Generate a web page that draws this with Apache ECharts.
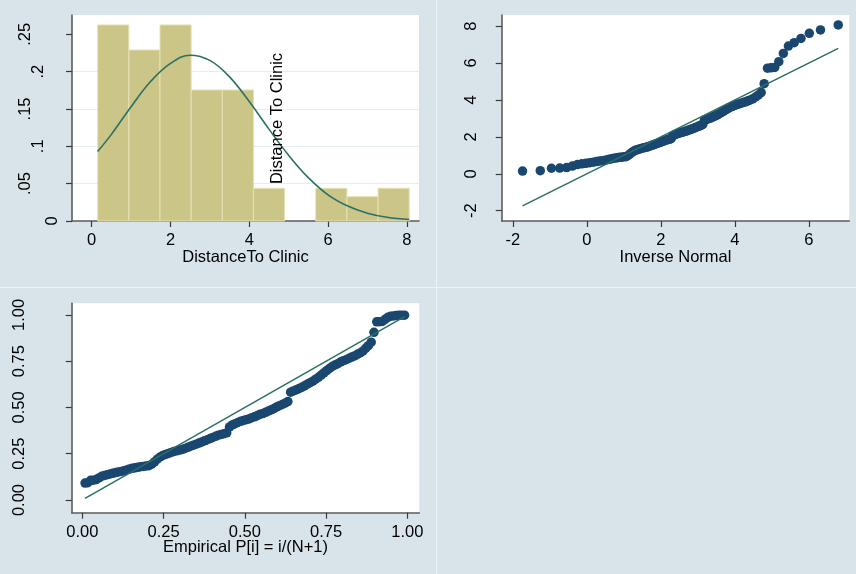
<!DOCTYPE html>
<html>
<head>
<meta charset="utf-8">
<script src="https://cdn.jsdelivr.net/npm/echarts@6.0.0/dist/echarts.min.js"></script>
<style>
html,body{margin:0;padding:0;background:#d9e4ea;}
#c{width:856px;height:574px;}
</style>
</head>
<body>
<div id="c"></div>
<script>
// ---------------- data ----------------
// Histogram of Distance To Clinic (density scale)
const histBinEdges = [0.152, 0.943, 1.734, 2.525, 3.316, 4.107, 4.898, 5.689, 6.480, 7.271, 8.062];
const histDensity  = [0.2625, 0.229, 0.2625, 0.1754, 0.1754, 0.0438, 0, 0.0438, 0.0326, 0.0438];
// Overlaid normal density curve
const normalCurveX = [0.15, 0.5, 1, 1.5, 2, 2.5, 3, 3.5, 4, 4.5, 5, 5.5, 6, 6.5, 7, 7.5, 8.06];
const normalCurveY = [0.093, 0.116, 0.153, 0.187, 0.211, 0.222, 0.215, 0.193, 0.160, 0.123, 0.088, 0.058, 0.035, 0.020, 0.0105, 0.005, 0.002];

// Quantile plot: inverse normal (x) vs Distance To Clinic (y), one entry per observation
const qqInverseNormal = [
  -1.737, -1.258, -0.956, -0.731, -0.547, -0.391, -0.254, -0.132, -0.021, 0.081,
  0.175, 0.263, 0.345, 0.424, 0.499, 0.570, 0.638, 0.704, 0.767, 0.828,
  0.888, 0.945, 1.001, 1.056, 1.108, 1.160, 1.212, 1.262, 1.310, 1.358,
  1.405, 1.451, 1.496, 1.541, 1.585, 1.628, 1.671, 1.714, 1.757, 1.798,
  1.839, 1.880, 1.921, 1.962, 2.003, 2.043, 2.082, 2.121, 2.161, 2.200,
  2.239, 2.277, 2.316, 2.354, 2.393, 2.431, 2.470, 2.507, 2.547, 2.584,
  2.624, 2.661, 2.700, 2.738, 2.777, 2.815, 2.854, 2.893, 2.933, 2.972,
  3.011, 3.051, 3.092, 3.133, 3.174, 3.215, 3.256, 3.297, 3.340, 3.383,
  3.426, 3.469, 3.513, 3.558, 3.603, 3.649, 3.696, 3.744, 3.792, 3.842,
  3.894, 3.946, 3.998, 4.053, 4.109, 4.166, 4.226, 4.287, 4.350, 4.416,
  4.484, 4.557, 4.630, 4.709, 4.791, 4.880, 4.973, 5.075, 5.186, 5.308,
  5.445, 5.601, 5.785, 6.010, 6.312, 6.791];
const qqDistance = [
  0.15, 0.17, 0.30, 0.31, 0.34, 0.42, 0.50, 0.54, 0.57, 0.60,
  0.63, 0.66, 0.69, 0.71, 0.74, 0.77, 0.80, 0.83, 0.85, 0.87,
  0.89, 0.90, 0.92, 0.93, 0.98, 1.06, 1.15, 1.22, 1.27, 1.30,
  1.33, 1.36, 1.39, 1.41, 1.43, 1.45, 1.48, 1.51, 1.54, 1.57,
  1.60, 1.63, 1.66, 1.69, 1.72, 1.75, 1.78, 1.81, 1.84, 1.86,
  1.88, 1.90, 2.05, 2.10, 2.13, 2.16, 2.19, 2.21, 2.23, 2.25,
  2.28, 2.30, 2.33, 2.36, 2.38, 2.41, 2.44, 2.47, 2.50, 2.54,
  2.57, 2.60, 2.63, 2.67, 2.90, 2.93, 2.96, 2.99, 3.02, 3.06,
  3.10, 3.14, 3.18, 3.23, 3.28, 3.34, 3.40, 3.46, 3.52, 3.58,
  3.62, 3.66, 3.71, 3.75, 3.78, 3.82, 3.86, 3.90, 3.95, 4.00,
  4.06, 4.16, 4.26, 4.40, 4.88, 5.72, 5.74, 5.76, 6.07, 6.52,
  6.92, 7.10, 7.33, 7.61, 7.79, 8.06];
const qqRefX = [-1.737, 6.791];
const qqRefY = [-1.737, 6.791];

// Probability plot: empirical P[i] (x) vs normal F (y), one entry per observation
const ppEmpirical = [
  0.0085, 0.0171, 0.0256, 0.0342, 0.0427, 0.0513, 0.0598, 0.0684, 0.0769, 0.0855,
  0.0940, 0.1026, 0.1111, 0.1197, 0.1282, 0.1368, 0.1453, 0.1538, 0.1624, 0.1709,
  0.1795, 0.1880, 0.1966, 0.2051, 0.2137, 0.2222, 0.2308, 0.2393, 0.2479, 0.2564,
  0.2650, 0.2735, 0.2821, 0.2906, 0.2991, 0.3077, 0.3162, 0.3248, 0.3333, 0.3419,
  0.3504, 0.3590, 0.3675, 0.3761, 0.3846, 0.3932, 0.4017, 0.4103, 0.4188, 0.4274,
  0.4359, 0.4444, 0.4530, 0.4615, 0.4701, 0.4786, 0.4872, 0.4957, 0.5043, 0.5128,
  0.5214, 0.5299, 0.5385, 0.5470, 0.5556, 0.5641, 0.5726, 0.5812, 0.5897, 0.5983,
  0.6068, 0.6154, 0.6239, 0.6325, 0.6410, 0.6496, 0.6581, 0.6667, 0.6752, 0.6838,
  0.6923, 0.7009, 0.7094, 0.7179, 0.7265, 0.7350, 0.7436, 0.7521, 0.7607, 0.7692,
  0.7778, 0.7863, 0.7949, 0.8034, 0.8120, 0.8205, 0.8291, 0.8376, 0.8462, 0.8547,
  0.8632, 0.8718, 0.8803, 0.8889, 0.8974, 0.9060, 0.9145, 0.9231, 0.9316, 0.9402,
  0.9487, 0.9573, 0.9658, 0.9744, 0.9829, 0.9915];
const ppNormal = [
  0.0918, 0.0936, 0.1064, 0.1073, 0.1105, 0.1192, 0.1284, 0.1331, 0.1368, 0.1405,
  0.1442, 0.1480, 0.1520, 0.1546, 0.1587, 0.1628, 0.1670, 0.1711, 0.1741, 0.1769,
  0.1798, 0.1814, 0.1843, 0.1857, 0.1933, 0.2058, 0.2204, 0.2324, 0.2410, 0.2461,
  0.2515, 0.2569, 0.2624, 0.2660, 0.2696, 0.2733, 0.2789, 0.2847, 0.2905, 0.2960,
  0.3019, 0.3078, 0.3138, 0.3199, 0.3256, 0.3318, 0.3380, 0.3442, 0.3505, 0.3546,
  0.3587, 0.3628, 0.3947, 0.4056, 0.4122, 0.4188, 0.4251, 0.4297, 0.4341, 0.4384,
  0.4451, 0.4495, 0.4562, 0.4629, 0.4673, 0.4741, 0.4805, 0.4872, 0.4940, 0.5028,
  0.5096, 0.5164, 0.5231, 0.5319, 0.5828, 0.5894, 0.5956, 0.6022, 0.6087, 0.6171,
  0.6259, 0.6342, 0.6424, 0.6528, 0.6631, 0.6754, 0.6876, 0.6992, 0.7109, 0.7221,
  0.7297, 0.7370, 0.7460, 0.7530, 0.7584, 0.7655, 0.7722, 0.7788, 0.7870, 0.7950,
  0.8045, 0.8196, 0.8340, 0.8527, 0.9061, 0.9630, 0.9639, 0.9648, 0.9763, 0.9873,
  0.9930, 0.9948, 0.9964, 0.9978, 0.9984, 0.9990];
const ppRefX = [0.0085, 0.9915];
const ppRefY = [0.0085, 0.9915];

// Tick values and labels
const histXTicks = [0, 2, 4, 6, 8];
const histXLabels = ['0', '2', '4', '6', '8'];
const histYTicks = [0, 0.05, 0.1, 0.15, 0.2, 0.25];
const histYLabels = ['0', '.05', '.1', '.15', '.2', '.25'];
const qqXTicks = [-2, 0, 2, 4, 6];
const qqXLabels = ['-2', '0', '2', '4', '6'];
const qqYTicks = [-2, 0, 2, 4, 6, 8];
const qqYLabels = ['-2', '0', '2', '4', '6', '8'];
const ppTicks = [0, 0.25, 0.5, 0.75, 1];
const ppLabels = ['0.00', '0.25', '0.50', '0.75', '1.00'];

const histXTitle = 'DistanceTo Clinic';
const histNote = 'Distance To Clinic';
const qqXTitle = 'Inverse Normal';
const ppXTitle = 'Empirical P[i] = i/(N+1)';

// ---------------- styling ----------------
const FONT = '"Liberation Sans", Arial, Helvetica, sans-serif';
const FS = 16.5;
const TEXT = '#000000';
const AXIS = '#5c5c5c';
const TICK = '#3a3a3a';
const TEAL = '#2a7064';
const NAVY = '#1a476f';

function pick(ticks, labels, v) {
  let k = 0, best = Infinity;
  ticks.forEach((t, i) => { const d = Math.abs(t - v); if (d < best) { best = d; k = i; } });
  return labels[k];
}
function zip(a, b) { return a.map((v, i) => [v, b[i]]); }

function xAxisCfg(grid, min, max, ticks, labels, name, nameGap) {
  return {
    type: 'value', gridIndex: grid, min: min, max: max, position: 'bottom',
    name: name, nameLocation: 'middle', nameGap: nameGap, nameMoveOverlap: false,
    nameTextStyle: { color: TEXT, fontFamily: FONT, fontSize: FS },
    axisLine: { show: true, onZero: false, lineStyle: { color: AXIS, width: 1.6 } },
    axisTick: { show: true, length: 6, customValues: ticks, lineStyle: { color: TICK, width: 1.2 } },
    axisLabel: { show: true, customValues: ticks, margin: 11, color: TEXT, fontFamily: FONT, fontSize: FS,
      formatter: v => pick(ticks, labels, v) },
    splitLine: { show: false }
  };
}
function yAxisCfg(grid, min, max, ticks, labels, margin) {
  return {
    type: 'value', gridIndex: grid, min: min, max: max, position: 'left',
    axisLine: { show: true, onZero: false, lineStyle: { color: AXIS, width: 1.6 } },
    axisTick: { show: true, length: 6, customValues: ticks, lineStyle: { color: TICK, width: 1.2 } },
    axisLabel: { show: true, customValues: ticks, rotate: 90, margin: margin, color: TEXT, fontFamily: FONT, fontSize: FS,
      formatter: v => pick(ticks, labels, v) },
    splitLine: { show: false }
  };
}

const histY = yAxisCfg(0, 0, 0.2758, histYTicks, histYLabels, 11.5);
histY.interval = 0.05;
histY.splitLine = { show: true, showMinLine: false, showMaxLine: false, lineStyle: { color: '#e5edf1', width: 1 } };
histY.axisLabel.formatter = v => {
  const s = pick(histYTicks, histYLabels, v);
  return '{w' + s.length + '|' + s + '}';
};
const richBase = { fontFamily: FONT, fontSize: FS, color: TEXT };
histY.axisLabel.rich = {
  w1: Object.assign({ padding: [0, 0, 0, 0] }, richBase),
  w2: Object.assign({ padding: [0, 0, 14, 0] }, richBase),
  w3: Object.assign({ padding: [0, 0, 27, 0] }, richBase)
};

const option = {
  animation: false,
  backgroundColor: '#d9e4ea',
  textStyle: { fontFamily: FONT },
  grid: [
    { left: 72, top: 15, width: 347, height: 206, show: true, backgroundColor: '#ffffff', borderWidth: 0, containLabel: false, outerBoundsMode: 'none' },
    { left: 501.7, top: 15, width: 347.6, height: 206, show: true, backgroundColor: '#ffffff', borderWidth: 0, containLabel: false, outerBoundsMode: 'none' },
    { left: 71.7, top: 303.3, width: 347.6, height: 209.4, show: true, backgroundColor: '#ffffff', borderWidth: 0, containLabel: false, outerBoundsMode: 'none' }
  ],
  xAxis: [
    xAxisCfg(0, -0.5, 8.31, histXTicks, histXLabels, histXTitle, 28),
    xAxisCfg(1, -2.30, 7.09, qqXTicks, qqXLabels, qqXTitle, 28),
    xAxisCfg(2, -0.0326, 1.0369, ppTicks, ppLabels, ppXTitle, 26)
  ],
  yAxis: [
    histY,
    yAxisCfg(1, -2.556, 8.60, qqYTicks, qqYLabels, 22),
    yAxisCfg(2, -0.0686, 1.063, ppTicks, ppLabels, 44)
  ],
  series: [
    {
      type: 'custom', xAxisIndex: 0, yAxisIndex: 0, z: 2,
      data: histDensity.map((d, i) => [histBinEdges[i], histBinEdges[i + 1], d]),
      encode: { x: [0, 1], y: 2 },
      renderItem: function (params, api) {
        const h = api.value(2);
        if (!(h > 0)) return null;
        const p0 = api.coord([api.value(0), h]);
        const p1 = api.coord([api.value(1), 0]);
        return {
          type: 'rect',
          shape: { x: p0[0], y: p0[1], width: p1[0] - p0[0], height: p1[1] - p0[1] },
          style: { fill: '#cbc587', stroke: '#e6e2b6', lineWidth: 1 }
        };
      }
    },
    {
      type: 'line', xAxisIndex: 0, yAxisIndex: 0, z: 3,
      data: zip(normalCurveX, normalCurveY), smooth: 0.4, showSymbol: false, symbol: 'none',
      lineStyle: { color: TEAL, width: 1.6 }
    },
    {
      type: 'scatter', xAxisIndex: 1, yAxisIndex: 1, z: 2,
      data: zip(qqInverseNormal, qqDistance), symbol: 'circle', symbolSize: 9.5,
      itemStyle: { color: NAVY, opacity: 1 }
    },
    {
      type: 'line', xAxisIndex: 1, yAxisIndex: 1, z: 3,
      data: zip(qqRefX, qqRefY), showSymbol: false, symbol: 'none',
      lineStyle: { color: TEAL, width: 1.5 }
    },
    {
      type: 'scatter', xAxisIndex: 2, yAxisIndex: 2, z: 2,
      data: zip(ppEmpirical, ppNormal), symbol: 'circle', symbolSize: 9.5,
      itemStyle: { color: NAVY, opacity: 1 }
    },
    {
      type: 'line', xAxisIndex: 2, yAxisIndex: 2, z: 3,
      data: zip(ppRefX, ppRefY), showSymbol: false, symbol: 'none',
      lineStyle: { color: TEAL, width: 1.5 }
    }
  ],
  graphic: [
    { type: 'line', silent: true, z: 0, shape: { x1: 436.5, y1: 0, x2: 436.5, y2: 574 }, style: { stroke: '#edf2f5', lineWidth: 1 } },
    { type: 'line', silent: true, z: 0, shape: { x1: 0, y1: 287.5, x2: 856, y2: 287.5 }, style: { stroke: '#edf2f5', lineWidth: 1 } },
    { type: 'text', silent: true, z: 100, x: 277, y: 118.5, rotation: Math.PI / 2,
      style: { text: histNote, fontFamily: FONT, fontSize: FS, fill: TEXT, align: 'center', verticalAlign: 'middle' } }
  ]
};

const chart = echarts.init(document.getElementById('c'), null, { renderer: 'canvas', width: 856, height: 574 });
chart.setOption(option);
</script>
</body>
</html>
